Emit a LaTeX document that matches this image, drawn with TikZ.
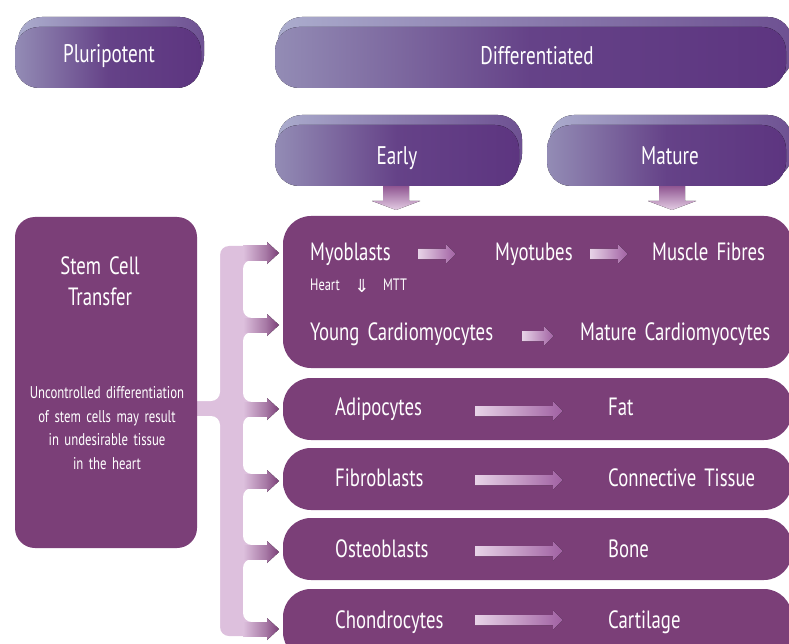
\documentclass[tikz,border=0pt]{standalone}
\usepackage{fontspec}
\setmainfont[FakeStretch=0.75,WordSpace=1.6]{PT Sans}
\newfontfamily\dejavu{DejaVu Sans}
\definecolor{boxp}{HTML}{7B3F78}
\definecolor{hL}{HTML}{938CB5}
\definecolor{hR}{HTML}{5D3580}
\definecolor{bL}{HTML}{ABACCD}
\definecolor{bR}{HTML}{6E5192}
\definecolor{pinkL}{HTML}{DDC0DD}
\definecolor{arrD}{HTML}{A060A2}
\colorlet{pinkM}{boxp!60!pinkL}
\tikzset{
  hdrback/.style={left color=bL, right color=bR, middle color=bR!55!bL, rounded corners=24},
  hdrfront/.style={left color=hL, right color=hR, middle color=hR!85!hL, rounded corners=24},
  mainbox/.style={fill=boxp},
  big/.style={text=white, inner sep=0pt, font=\fontsize{25}{29}\selectfont},
  hdr/.style={text=white, inner sep=0pt, font=\fontsize{25.5}{29}\selectfont},
  tiny/.style={text=white, inner sep=0pt, font=\fontsize{16.5}{18}\selectfont},
  note/.style={text=white, inner sep=0pt, align=center, font=\fontsize{17}{23.5}\selectfont},
  rowarrow/.style={left color=pinkL!70!white, right color=arrD},
  downarrow/.style={top color=arrD!90!black, bottom color=pinkL!80!white},
}
\newcommand\fatarrow[3]{%
  \fill[rowarrow] (#1,{#3-5}) -- ({#2-10},{#3-5}) -- ({#2-10},{#3-9.5}) -- (#2,#3)
    -- ({#2-10},{#3+9.5}) -- ({#2-10},{#3+5}) -- (#1,{#3+5}) -- cycle;}
\newcommand\hdrdown[1]{%
  \fill[downarrow] ({#1-13},186) -- ({#1+13},186) -- ({#1+13},201) -- ({#1+24},201)
    -- (#1,210) -- ({#1-24},201) -- ({#1-13},201) -- cycle;}
\begin{document}
\begin{tikzpicture}[x=1pt,y=-1pt]
\useasboundingbox (0,0) rectangle (789,644);
\clip (0,0) rectangle (789,644);

% ---- header boxes
\fill[hdrback] (18,17) rectangle (204,80);
\fill[hdrfront] (15,27) rectangle (201,88);
\node[hdr] (plu) at (109,56) {Pluripotent};

\fill[hdrback] (278,17) rectangle (792,80);
\fill[hdrfront] (275,27) rectangle (786,88);
\node[hdr] (dif) at (537,56) {Differentiated};

\hdrdown{396}
\hdrdown{672}

\fill[hdrback] (278,115) rectangle (522,178);
\fill[hdrfront] (275,125) rectangle (519,186);
\node[hdr] (early) at (397,158) {Early};

\fill[hdrback] (550,115) rectangle (792,178);
\fill[hdrfront] (547,125) rectangle (786,186);
\node[hdr] (mat) at (670,156) {Mature};

% ---- bracket connector
\fill[pinkL, rounded corners=9] (220,246) rectangle (300,636);
\fill[pinkL] (197,385) rectangle (243,432);
\foreach \a/\b in {253/325,325/409,409/481,481/552,552/629}
  \fill[white, rounded corners=9] (243,\a+7) rectangle (330,\b-7);
\fill[white, rounded corners=9] (150,225) rectangle (220,401);
\fill[white, rounded corners=9] (150,416) rectangle (220,670);
\fill[white] (265,240) rectangle (283,644);
\foreach \c in {253,325,409,481,552,629}{
  \fill[left color=pinkL, right color=pinkM] (243,\c-7) rectangle (267.5,\c+7);
  \fill[left color=pinkM, right color=boxp] (267,\c-11) -- (279,\c) -- (267,\c+11) -- cycle;
}

% ---- stem cell box
\fill[mainbox, rounded corners=20] (15,217) rectangle (197,548);
\node[big, align=center] (stem) at (100,281) {Stem Cell\\[2pt]Transfer};
\node[note] (unc) at (107,428) {Uncontrolled differentiation\\of stem cells may result\\in undesirable tissue\\in the heart};

% ---- right boxes
\fill[mainbox, rounded corners=28] (283,216) rectangle (792,368);
\fill[mainbox, rounded corners=28] (283,378) rectangle (792,440);
\fill[mainbox, rounded corners=28] (283,448) rectangle (792,510);
\fill[mainbox, rounded corners=28] (283,518) rectangle (792,580);
\fill[mainbox, rounded corners=28] (283,589) rectangle (792,660);

% row 1
\node[big, anchor=base west] (myob) at (310,260) {Myoblasts};
\node[big, anchor=base west] (myot) at (495,260) {Myotubes};
\node[big, anchor=base west] (musc) at (652,260) {Muscle Fibres};
\fatarrow{418}{456}{254}
\fatarrow{590}{628}{254}
\node[tiny, anchor=base west] (heart) at (310,290) {Heart};
\node[tiny, anchor=base] (darr) at (362,292) {\dejavu\fontsize{18}{18}\selectfont ⇓};
\node[tiny, anchor=base west] (mtt) at (383,290) {MTT};
\node[big, anchor=base west] (young) at (310,340) {Young Cardiomyocytes};
\node[big, anchor=base west] (matc) at (580,340) {Mature Cardiomyocytes};
\fatarrow{522}{554}{336}

% other rows
\node[big, anchor=base west] (adi) at (335,415) {Adipocytes};
\node[big, anchor=base west] (fat) at (608,415) {Fat};
\fatarrow{475}{563}{411}
\node[big, anchor=base west] (fib) at (335,486) {Fibroblasts};
\node[big, anchor=base west] (con) at (608,486) {Connective Tissue};
\fatarrow{475}{563}{480}
\node[big, anchor=base west] (ost) at (335,557) {Osteoblasts};
\node[big, anchor=base west] (bone) at (608,557) {Bone};
\fatarrow{475}{563}{551}
\node[big, anchor=base west] (cho) at (335,628) {Chondrocytes};
\node[big, anchor=base west] (car) at (608,628) {Cartilage};
\fatarrow{475}{563}{620}
\end{tikzpicture}
\end{document}
